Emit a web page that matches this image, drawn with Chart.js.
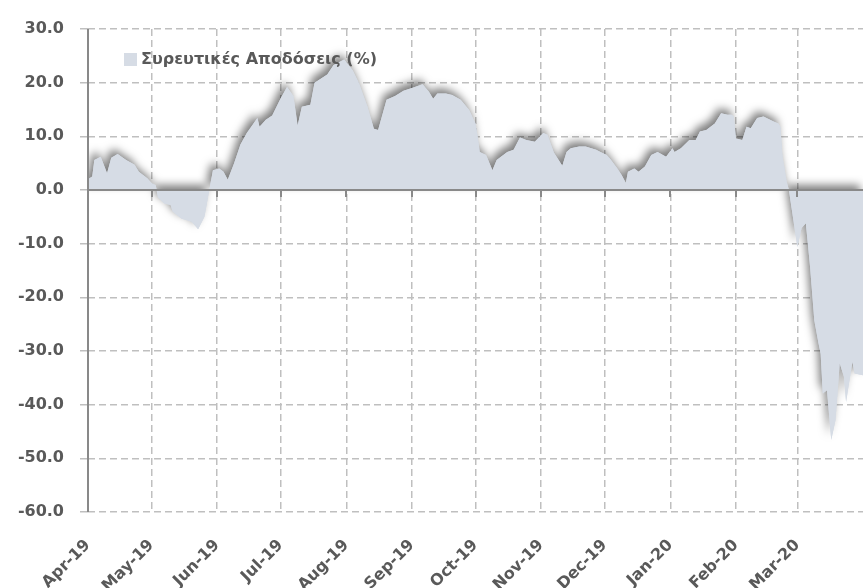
<!DOCTYPE html>
<html>
<head>
<meta charset="utf-8">
<script src="https://cdn.jsdelivr.net/npm/chart.js@4.4.1/dist/chart.umd.min.js"></script>
<style>
    html, body { margin: 0; padding: 0; background: #ffffff; }
    #wrap { width: 863px; height: 588px; position: relative; }
    canvas { display: block; }
</style>
</head>
<body>
<div id="wrap"><canvas id="returnsChart" width="863" height="588"></canvas></div>
<script>
// series name shown in the legend
const seriesLabel = 'Συρευτικές Αποδόσεις (%)';

// month ticks (day offsets counted from 1 Apr 2019)
const monthLabels = ['Apr-19', 'May-19', 'Jun-19', 'Jul-19', 'Aug-19', 'Sep-19',
    'Oct-19', 'Nov-19', 'Dec-19', 'Jan-20', 'Feb-20', 'Mar-20'];
const monthStartDays = [0, 30, 61, 91, 122, 153, 183, 214, 244, 275, 306, 335];
const lastDay = 366;

// value axis
const yMin = -60;
const yMax = 30;
const yStep = 10;

const sampleDays = [
    0, 2, 3, 6, 9, 11, 14, 18, 22, 24, 28, 30, 32, 33, 36, 39, 40, 44, 49, 52,
    55, 57, 59, 62, 64, 66, 69, 72, 75, 80, 81, 84, 87, 91, 94, 97, 99, 101, 105, 107,
    113, 116, 121, 125, 128, 132, 135, 137, 141, 145, 149, 153, 158, 161, 163, 165, 169, 172, 176, 180,
    183, 184, 185, 188, 191, 193, 198, 201, 204, 207, 211, 215, 217, 220, 224, 226, 228, 232, 235, 240,
    242, 245, 247, 250, 252, 254, 255, 258, 260, 263, 266, 269, 273, 276, 277, 280, 284, 287, 289, 292,
    296, 299, 302, 304, 305, 306, 309, 311, 313, 316, 319, 324, 326, 327, 328, 330, 331, 335, 337, 339,
    341, 343, 345, 346, 347, 349, 351, 353, 355, 357, 358, 361, 362, 366
];
const cumulativeReturns = [
    2.0, 2.5, 5.6, 6.2, 3.1, 6.0, 6.7, 5.6, 4.7, 3.4, 2.2, 1.3, 0.9, -1.3, -2.5, -2.8, -4.0, -5.3, -5.9, -7.3,
    -5.0, -0.6, 3.7, 4.0, 3.4, 1.9, 5.0, 8.5, 10.6, 13.4, 11.8, 13.1, 13.9, 17.1, 19.2, 17.5, 12.0, 15.5, 15.9, 20.0,
    21.5, 23.3, 24.3, 22.3, 19.9, 15.5, 11.4, 11.2, 16.8, 17.5, 18.5, 19.0, 19.7, 18.3, 17.0, 18.0, 18.0, 17.7, 16.8, 14.9,
    12.4, 10.0, 7.1, 6.5, 3.7, 5.6, 7.1, 7.5, 9.8, 9.3, 9.0, 10.6, 10.3, 7.0, 4.5, 7.1, 7.8, 8.1, 8.1, 7.5,
    7.1, 6.5, 5.6, 4.0, 2.8, 1.3, 3.4, 4.0, 3.4, 4.4, 6.5, 7.1, 6.2, 7.8, 7.1, 7.8, 9.3, 9.3, 10.9, 11.2,
    12.4, 14.3, 14.0, 14.0, 13.7, 9.6, 9.3, 11.8, 11.5, 13.4, 13.7, 12.7, 12.4, 11.8, 6.2, 1.5, 0.0, -10.6, -7.1, -6.2,
    -14.3, -24.3, -28.6, -30.5, -37.9, -37.3, -46.6, -42.9, -32.3, -34.8, -39.5, -32.0, -34.2, -34.5
];

const AREA_COLOR = '#d6dce5';
const TEXT_COLOR = '#595959';
const AXIS_COLOR = '#898989';
const GRID_COLOR = '#bfbfbf';
const GRID_DASH = [7, 4];
const FONT = 'DejaVu Sans';

// blurred shadow behind the area: a copy of the area path drawn first,
// built from the points the line controller already placed
const areaShadow = {
    id: 'areaShadow',
    beforeDatasetsDraw(chart) {
        const ctx = chart.ctx;
        const pts = chart.getDatasetMeta(0).data;
        if (!pts.length) return;
        const { left, right, top, bottom } = chart.chartArea;
        const y0 = chart.scales.y.getPixelForValue(0);

        ctx.save();
        ctx.beginPath();
        ctx.rect(left, top, right - left, bottom - top);
        ctx.clip();
        ctx.shadowColor = 'rgba(0, 0, 0, 0.5)';
        ctx.shadowBlur = 9;
        ctx.shadowOffsetX = -3;
        ctx.shadowOffsetY = -5;
        ctx.fillStyle = AREA_COLOR;
        ctx.beginPath();
        ctx.moveTo(pts[0].x, y0);
        for (const p of pts) {
            ctx.lineTo(p.x, p.y);
        }
        ctx.lineTo(pts[pts.length - 1].x, y0);
        ctx.closePath();
        ctx.fill();
        ctx.restore();
    },
    afterDatasetsDraw(chart) {
        // axis at zero with small ticks, drawn over the area
        const ctx = chart.ctx;
        const { left, right, top, bottom } = chart.chartArea;
        const xScale = chart.scales.x;
        const y0 = chart.scales.y.getPixelForValue(0);
        ctx.save();
        ctx.setLineDash([]);
        ctx.strokeStyle = AXIS_COLOR;
        ctx.lineWidth = 2;
        ctx.beginPath();
        ctx.moveTo(left, y0);
        ctx.lineTo(right, y0);
        for (const d of monthStartDays) {
            const x = Math.round(xScale.getPixelForValue(d));
            ctx.moveTo(x, y0);
            ctx.lineTo(x, y0 + 7);
        }
        ctx.moveTo(left, top);
        ctx.lineTo(left, bottom);
        ctx.stroke();
        ctx.restore();
    }
};

// legend sitting inside the plot, top left
const insideLegend = {
    id: 'insideLegend',
    afterDraw(chart) {
        const ctx = chart.ctx;
        const { left, top } = chart.chartArea;
        ctx.save();
        ctx.fillStyle = AREA_COLOR;
        ctx.fillRect(left + 36, top + 24, 13, 13);
        ctx.fillStyle = TEXT_COLOR;
        ctx.font = 'bold 16px "' + FONT + '"';
        ctx.textBaseline = 'middle';
        ctx.fillText(chart.data.datasets[0].label, left + 53, top + 31);
        ctx.restore();
    }
};

const points = sampleDays.map((d, i) => ({ x: d, y: cumulativeReturns[i] }));

new Chart(document.getElementById('returnsChart'), {
    type: 'line',
    data: {
        datasets: [{
            label: seriesLabel,
            data: points,
            fill: 'origin',
            backgroundColor: AREA_COLOR,
            borderColor: 'rgba(0,0,0,0)',
            borderWidth: 0,
            pointRadius: 0
        }]
    },
    options: {
        responsive: false,
        animation: false,
        layout: { padding: { top: 29 } },
        plugins: {
            legend: { display: false },
            tooltip: { enabled: false }
        },
        scales: {
            x: {
                type: 'linear',
                min: 0,
                max: lastDay,
                afterBuildTicks(scale) {
                    scale.ticks = monthStartDays.map(d => ({ value: d }));
                },
                afterFit(scale) {
                    scale.height = 76;
                },
                ticks: {
                    autoSkip: false,
                    minRotation: 45,
                    maxRotation: 45,
                    padding: 24,
                    color: TEXT_COLOR,
                    font: { family: FONT, weight: 'bold', size: 16 },
                    callback: (value, index) => monthLabels[index]
                },
                grid: { color: GRID_COLOR, lineWidth: 1.5, drawTicks: false },
                border: { display: false, dash: GRID_DASH }
            },
            y: {
                min: yMin,
                max: yMax,
                afterFit(scale) {
                    scale.width = 88;
                },
                ticks: {
                    stepSize: yStep,
                    padding: 16,
                    color: TEXT_COLOR,
                    font: { family: FONT, weight: 'bold', size: 16 },
                    callback: value => value.toFixed(1)
                },
                grid: { color: GRID_COLOR, lineWidth: 1.5, tickLength: 8 },
                border: { display: false, dash: GRID_DASH }
            }
        }
    },
    plugins: [areaShadow, insideLegend]
});
</script>
</body>
</html>
